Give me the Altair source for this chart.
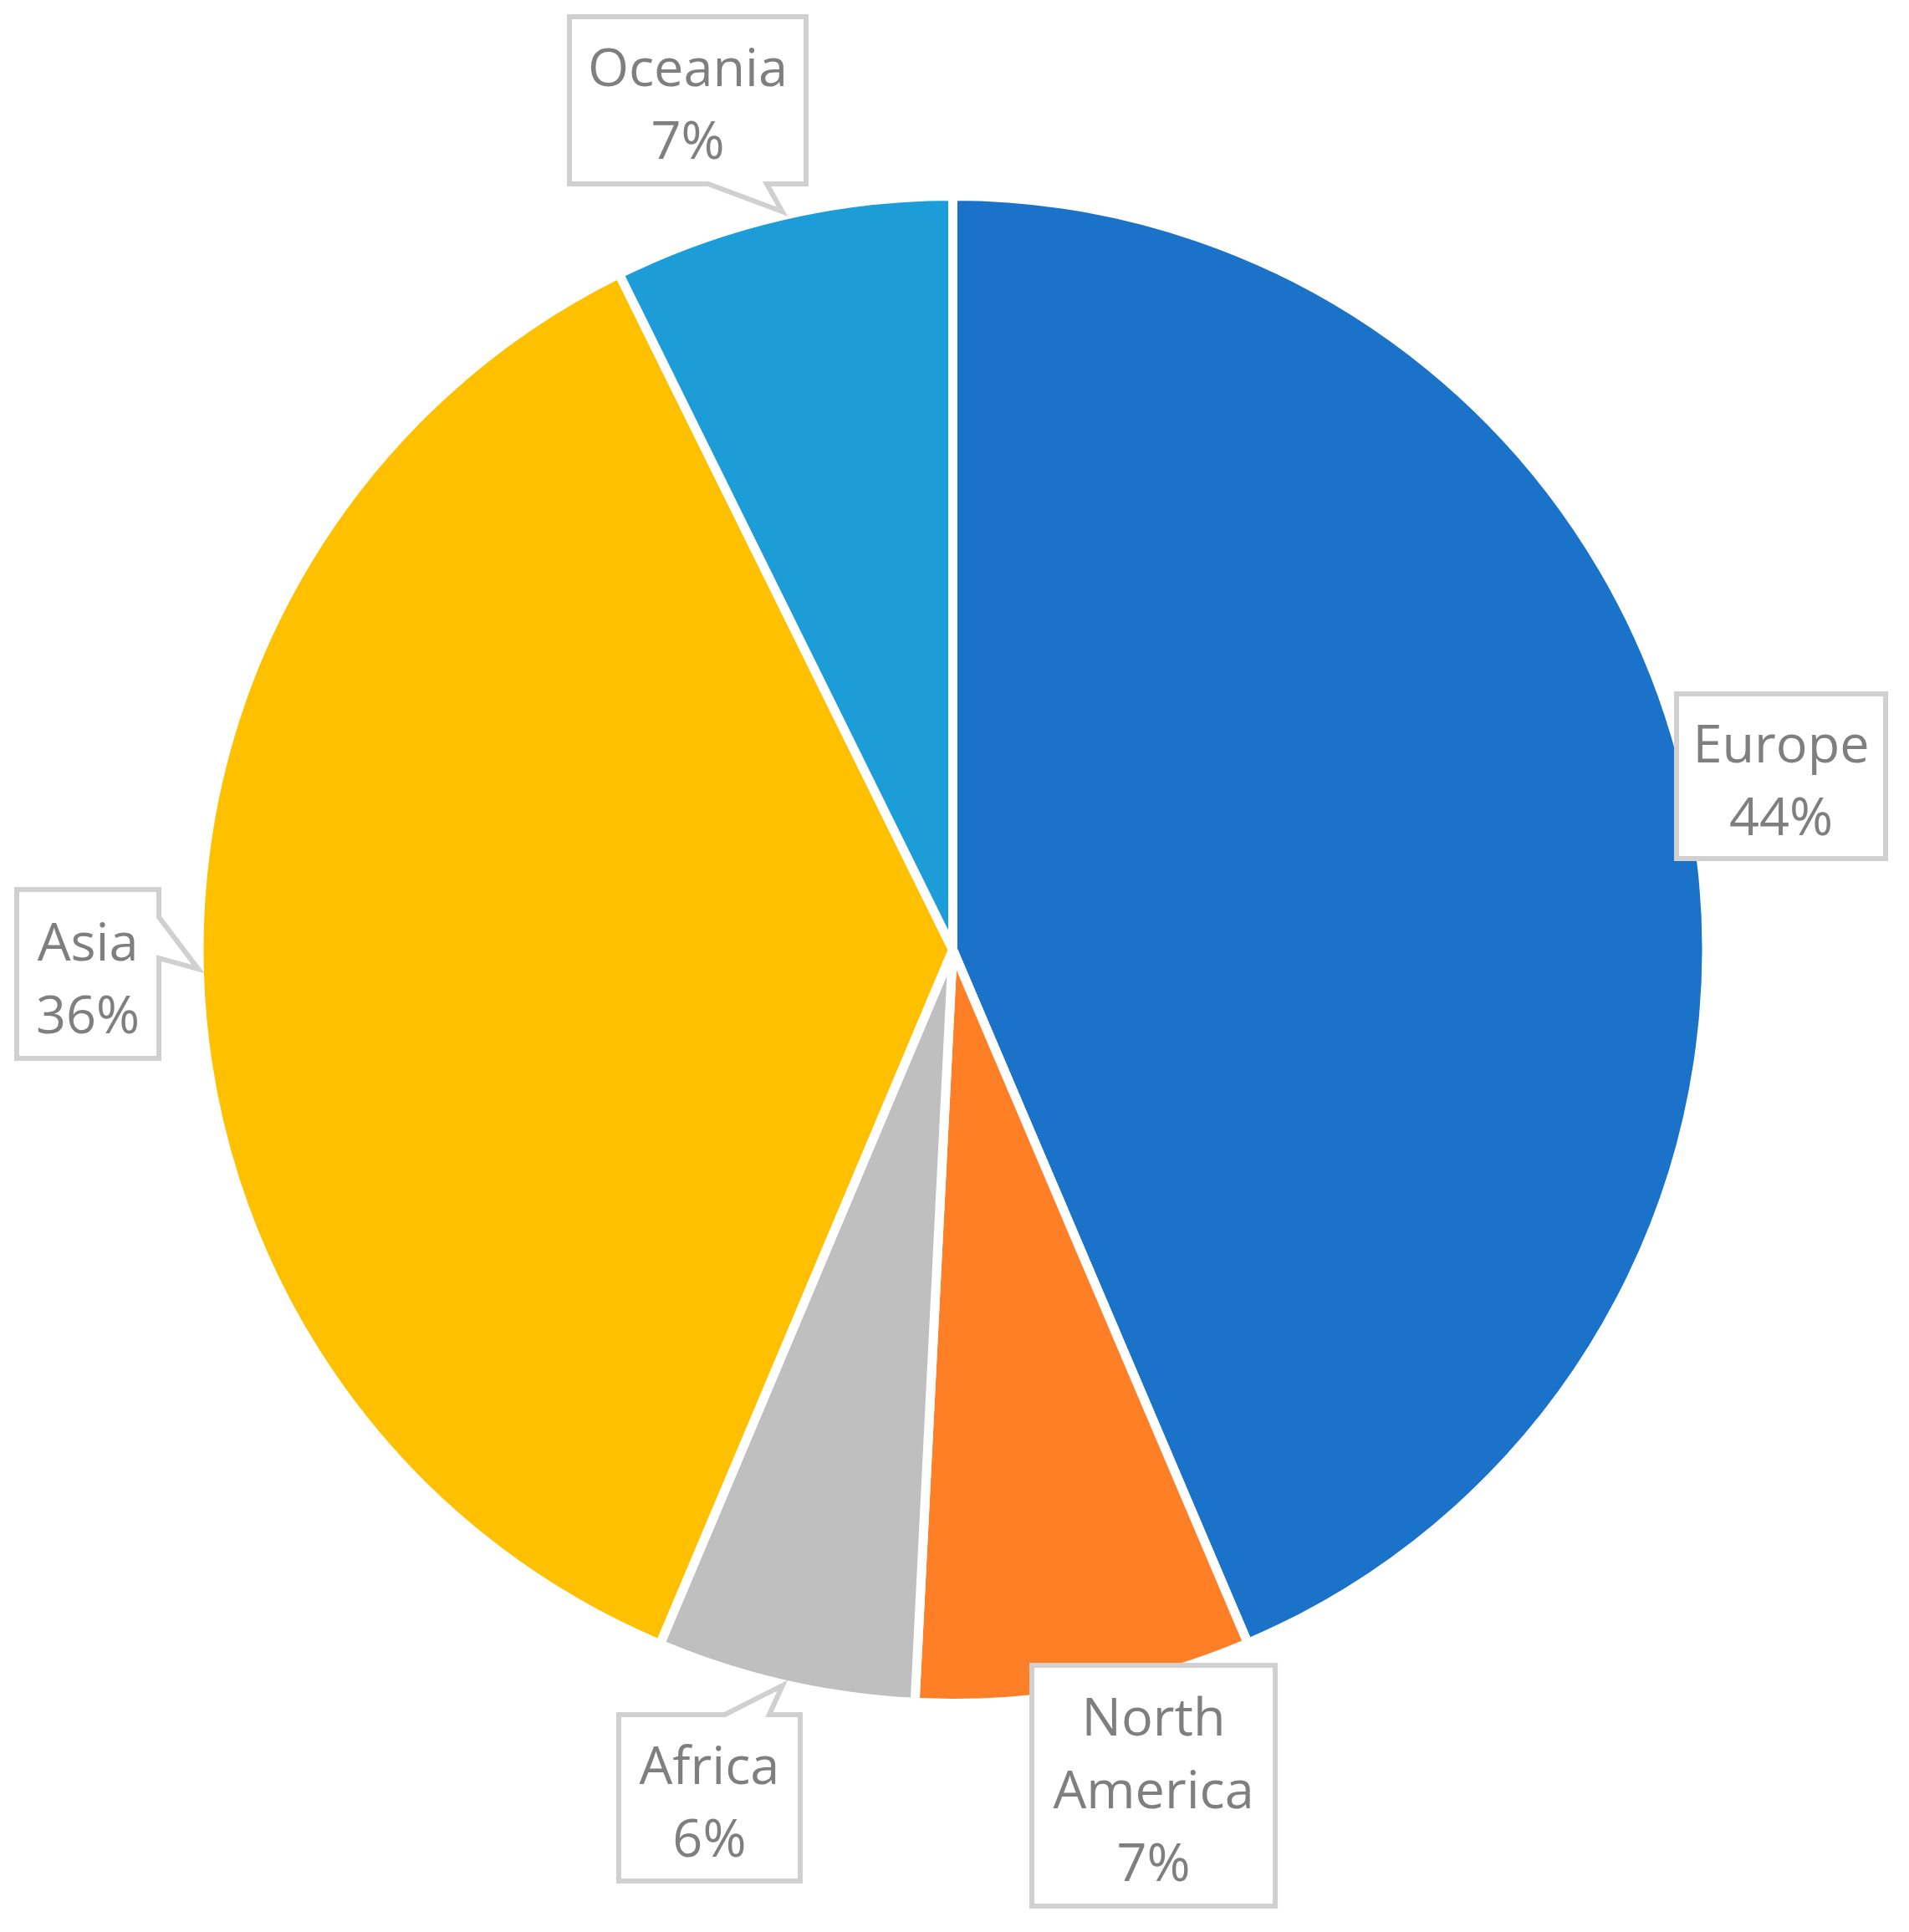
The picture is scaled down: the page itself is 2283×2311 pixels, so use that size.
import math
import altair as alt
import pandas as pd

# ---------------- data ----------------
regions = ["Europe", "North America", "Africa", "Asia", "Oceania"]
label_names = ["Europe", "North\nAmerica", "Africa", "Asia", "Oceania"]
values = [43.6, 7.2, 5.55, 36.35, 7.3]
colors = ["#1A73C8", "#FF7F27", "#BFBFBF", "#FFC000", "#1D9DD8"]

# ---------------- layout / style ----------------
W, H = 2263, 2290          # plot area in px
CX, CY = 1131.5, 1128      # pie centre in plot px
R = 896                    # visible pie radius px
GAP = 11                   # white separator width
FONT = "Open Sans"
FONT_SIZE = 63
LINE_H = 87
TEXT_COLOR = "#7F7F7F"
BOX_STROKE = "#D0D0D0"

# label placement: (angle offset from slice middle in degrees, distance in radii)
label_layout = {
    "Europe": (-0.31, 1.1295),
    "North America": (-3.42, 1.1478),
    "Africa": (3.14, 1.1779),
    "Asia": (0.1, 1.1550),
    "Oceania": (-4.19, 1.1879),
}

# callout outlines in px relative to label centre (y down)
callout_paths = {
    "Europe": "M-125,-98.5L125,-98.5L125,98.5L-125,98.5Z",
    "North America": "M-145.5,-144L145.5,-144L145.5,144L-145.5,144Z",
    "Africa": "M-108.5,-99.5L18.5,-99.5L87.5,-134.5L71.5,-99.5L108.5,-99.5L108.5,99.5L-108.5,99.5Z",
    "Asia": "M-85,-101L85,-101L85,-68L132,-6L85,-19L85,101L-85,101Z",
    "Oceania": "M-141.5,-100L141.5,-100L141.5,100L94.5,100L113,133L24.5,100L-141.5,100Z",
}

total = sum(values)
rows = []
cum = 0.0
for i, (reg, name, v) in enumerate(zip(regions, label_names, values)):
    mid = (cum + v / 2) / total * 360.0
    cum += v
    off, dist = label_layout[reg]
    a = math.radians(mid + off)
    pct = int(v / total * 100 + 0.5)
    label = f"{name}\n{pct}%"
    n_lines = label.count("\n") + 1
    lx = dist * math.sin(a)
    ly = dist * math.cos(a)
    # first line anchor so that the whole text block is centred in its box
    ty = ly + ((n_lines - 1) * LINE_H / 2 - 8) / R
    rows.append({
        "region": reg,
        "order": i,
        "value": v,
        "label": label,
        "lx": lx,
        "ly": ly,
        "ty": ty,
    })
df = pd.DataFrame(rows)

xscale = alt.Scale(domain=[-CX / R, (W - CX) / R], nice=False, zero=False)
yscale = alt.Scale(domain=[-(H - CY) / R, CY / R], nice=False, zero=False)

pie = alt.Chart(df).mark_arc(
    outerRadius=R + GAP / 2, stroke="white", strokeWidth=GAP, strokeJoin="round"
).encode(
    theta=alt.Theta("value:Q", stack=True),
    order=alt.Order("order:Q", sort="ascending"),
    color=alt.Color("region:N", scale=alt.Scale(domain=regions, range=colors), legend=None),
    x=alt.value(CX),
    y=alt.value(CY),
)

boxes = alt.Chart(df).mark_point(
    filled=True, fill="white", stroke=BOX_STROKE, strokeWidth=6, opacity=1, size=4
).encode(
    x=alt.X("lx:Q", scale=xscale, axis=None),
    y=alt.Y("ly:Q", scale=yscale, axis=None),
    shape=alt.Shape("region:N",
                    scale=alt.Scale(domain=regions, range=[callout_paths[r] for r in regions]),
                    legend=None),
)

texts = alt.Chart(df).mark_text(
    font=FONT, fontSize=FONT_SIZE, color=TEXT_COLOR, lineHeight=LINE_H,
    align="center", baseline="middle", lineBreak="\n"
).encode(
    x=alt.X("lx:Q", scale=xscale, axis=None),
    y=alt.Y("ty:Q", scale=yscale, axis=None),
    text="label:N",
)

chart = alt.layer(pie, boxes, texts).properties(
    width=W, height=H, padding=0, autosize=alt.AutoSizeParams(type="none")
).configure_view(strokeWidth=0)

chart.save("out.html", embed_options={"renderer": "svg", "actions": False})
